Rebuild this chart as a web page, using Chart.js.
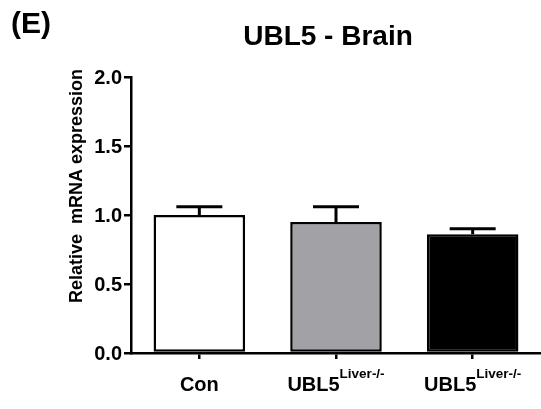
<!DOCTYPE html>
<html>
<head>
<meta charset="utf-8">
<script src="https://cdn.jsdelivr.net/npm/chart.js@4"></script>
<style>
  html, body { margin: 0; padding: 0; background: #fff; }
  #wrap { width: 541px; height: 409px; overflow: hidden; }
</style>
</head>
<body>
<div id="wrap"><canvas id="c" width="541" height="409"></canvas></div>
<script>
// Groups, their superscript tags, and measured expression (mean ± SEM)
const categories = ['Con', 'UBL5', 'UBL5'];
const superscripts = ['', 'Liver-/-', 'Liver-/-'];
const means = [1.00, 0.95, 0.86];
const sem = [0.06, 0.11, 0.04];
const fills = ['#ffffff', '#a2a1a6', '#000000'];
const yTicks = [0, 0.5, 1.0, 1.5, 2.0];

const FONT = '"Liberation Sans", Arial, Helvetica, sans-serif';

// Upper error bars with caps, drawn on top of each bar
const errorBars = {
  id: 'errorBars',
  afterDatasetsDraw(chart) {
    const ctx = chart.ctx;
    const y = chart.scales.y;
    const meta = chart.getDatasetMeta(0);
    ctx.save();
    ctx.strokeStyle = '#000';
    ctx.lineWidth = 3;
    meta.data.forEach((bar, i) => {
      const x = bar.x;
      const yTop = y.getPixelForValue(means[i] + sem[i]);
      const yMean = y.getPixelForValue(means[i]);
      ctx.beginPath();
      ctx.moveTo(x, yMean);
      ctx.lineTo(x, yTop);
      ctx.moveTo(x - 23, yTop);
      ctx.lineTo(x + 23, yTop);
      ctx.stroke();
    });
    ctx.restore();
  }
};

// Panel letter, title, tick values, rotated axis title and group labels
const annotations = {
  id: 'annotations',
  afterDraw(chart) {
    const ctx = chart.ctx;
    const xs = chart.scales.x;
    const ys = chart.scales.y;
    ctx.save();
    ctx.fillStyle = '#000';
    ctx.textBaseline = 'alphabetic';

    ctx.font = 'bold 30px ' + FONT;
    ctx.textAlign = 'left';
    ctx.fillText('(E)', 11, 33);

    ctx.font = 'bold 28px ' + FONT;
    ctx.textAlign = 'center';
    ctx.fillText('UBL5 - Brain', 328, 45);

    // y tick values
    ctx.font = 'bold 20px ' + FONT;
    ctx.textAlign = 'right';
    yTicks.forEach(v => {
      ctx.fillText(v.toFixed(1), 122, ys.getPixelForValue(v) + 7);
    });

    // y axis title, rotated
    ctx.save();
    ctx.translate(82, 186);
    ctx.rotate(-Math.PI / 2);
    ctx.font = 'bold 18px ' + FONT;
    ctx.textAlign = 'center';
    ctx.fillText('Relative  mRNA expression', 0, 0);
    ctx.restore();

    // group labels with superscripts
    ctx.textAlign = 'left';
    categories.forEach((name, i) => {
      const cx = xs.getPixelForValue(i);
      ctx.font = 'bold 20px ' + FONT;
      const wMain = ctx.measureText(name).width;
      ctx.font = 'bold 13.5px ' + FONT;
      const wSup = superscripts[i] ? ctx.measureText(superscripts[i]).width : 0;
      const left = cx - (wMain + wSup) / 2;
      ctx.font = 'bold 20px ' + FONT;
      ctx.fillText(name, left, 391);
      if (superscripts[i]) {
        ctx.font = 'bold 13.5px ' + FONT;
        ctx.fillText(superscripts[i], left + wMain, 378);
      }
    });
    ctx.restore();
  }
};

new Chart(document.getElementById('c'), {
  type: 'bar',
  data: {
    labels: categories.map((c, i) => c + superscripts[i]),
    datasets: [{
      data: means,
      backgroundColor: fills,
      borderColor: '#000',
      borderWidth: 2.5,
      borderSkipped: false,
      categoryPercentage: 1.0,
      barPercentage: 0.67
    }]
  },
  options: {
    responsive: false,
    animation: false,
    layout: { padding: { top: 77, right: -4, bottom: 0, left: 0 } },
    plugins: { legend: { display: false }, tooltip: { enabled: false }, title: { display: false } },
    scales: {
      x: {
        grid: { offset: false, drawOnChartArea: false, drawTicks: true, tickLength: 6, color: '#000', lineWidth: 2.5 },
        border: { color: '#000', width: 2.5 },
        ticks: { display: false },
        afterFit(s) { s.height = 56; }
      },
      y: {
        min: 0,
        max: 2,
        afterBuildTicks(s) { s.ticks = yTicks.map(v => ({ value: v })); },
        grid: { drawOnChartArea: false, drawTicks: true, tickLength: 7, color: '#000', lineWidth: 2.5 },
        border: { color: '#000', width: 2.5 },
        ticks: { display: false },
        afterFit(s) { s.width = 131; }
      }
    }
  },
  plugins: [errorBars, annotations]
});
</script>
</body>
</html>
